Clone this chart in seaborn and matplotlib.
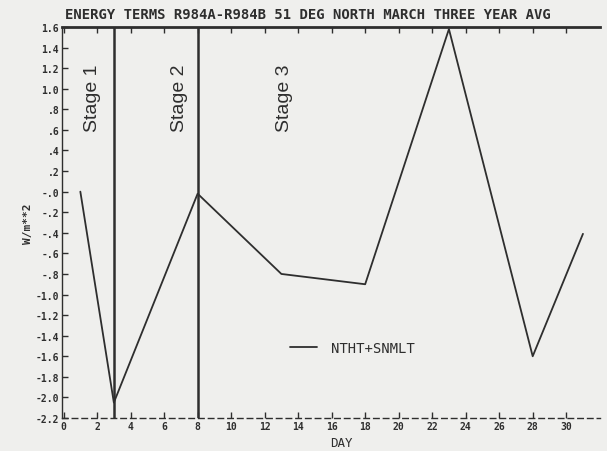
import numpy as np
import pandas as pd
import seaborn as sns
import matplotlib.pyplot as plt

# --- data ---
days = [1, 3, 8, 13, 18, 23, 28, 31]
energy = [0.0, -2.05, -0.02, -0.8, -0.9, 1.58, -1.6, -0.41]
stage_bounds = [3, 8]
stage_names = ['Stage 1', 'Stage 2', 'Stage 3']
stage_label_x = [1.7, 6.9, 13.2]

x_ticks = list(range(0, 32, 2))
y_ticks = [1.6, 1.4, 1.2, 1.0, 0.8, 0.6, 0.4, 0.2, 0.0, -0.2, -0.4, -0.6, -0.8,
           -1.0, -1.2, -1.4, -1.6, -1.8, -2.0, -2.2]
y_tick_labels = ['1.6', '1.4', '1.2', '1.0', '.8', '.6', '.4', '.2', '-.0', '-.2',
                 '-.4', '-.6', '-.8', '-1.0', '-1.2', '-1.4', '-1.6', '-1.8',
                 '-2.0', '-2.2']

df = pd.DataFrame({'DAY': days, 'W/m**2': energy})

sns.set_theme(style='white')
plt.rcParams['font.family'] = ['DejaVu Sans Mono', 'DejaVu Sans']
bg = '#efefed'
ink = '#2e2e2e'

fig = plt.figure(figsize=(6.07, 4.52), dpi=100, facecolor=bg)
ax = fig.add_axes([0.102, 0.073, 0.886, 0.865], facecolor=bg)

sns.lineplot(data=df, x='DAY', y='W/m**2', color=ink, lw=1.3, ax=ax,
             label='NTHT+SNMLT')

# stage boundaries
for b in stage_bounds:
    ax.axvline(b, color=ink, lw=1.8)
for name, sx in zip(stage_names, stage_label_x):
    ax.text(sx, 1.25, name, rotation=90, ha='center', va='top', fontsize=14,
            color=ink, family='Liberation Sans')

ax.set_xlim(-0.1, 32)
ax.set_ylim(-2.2, 1.6)
ax.set_xticks(x_ticks)
ax.set_xticklabels([str(t) for t in x_ticks], fontsize=7, fontweight='bold', color=ink)
ax.set_yticks(y_ticks)
ax.set_yticklabels(y_tick_labels, fontsize=7, fontweight='bold', color=ink)
ax.tick_params(axis='both', direction='in', length=4, width=1, color=ink, pad=2,
               top=True, left=True, bottom=True)

ax.spines['right'].set_visible(False)
ax.spines['top'].set_color(ink)
ax.spines['top'].set_linewidth(2)
ax.spines['left'].set_color(ink)
ax.spines['left'].set_linewidth(1)
ax.spines['left'].set_linestyle((0, (6, 1)))
ax.spines['bottom'].set_color(ink)
ax.spines['bottom'].set_linewidth(1)
ax.spines['bottom'].set_linestyle((0, (4, 3)))

fig.text(308 / 607, 1 - 15 / 452,
         'ENERGY TERMS R984A-R984B 51 DEG NORTH MARCH THREE YEAR AVG',
         ha='center', va='center', fontsize=10, fontweight='bold', color=ink)
ax.set_xlabel('DAY', fontsize=9, color=ink)
ax.xaxis.set_label_coords(0.52, -0.045)
ax.set_ylabel('W/m**2', fontsize=8, fontweight='bold', color=ink, labelpad=2)

leg = ax.legend(loc='center left', bbox_to_anchor=(0.40, 0.18), frameon=False,
                fontsize=10, handlelength=2.0, handletextpad=1.0)
for t in leg.get_texts():
    t.set_color(ink)

fig.savefig('out.png', dpi=100, facecolor=bg)
